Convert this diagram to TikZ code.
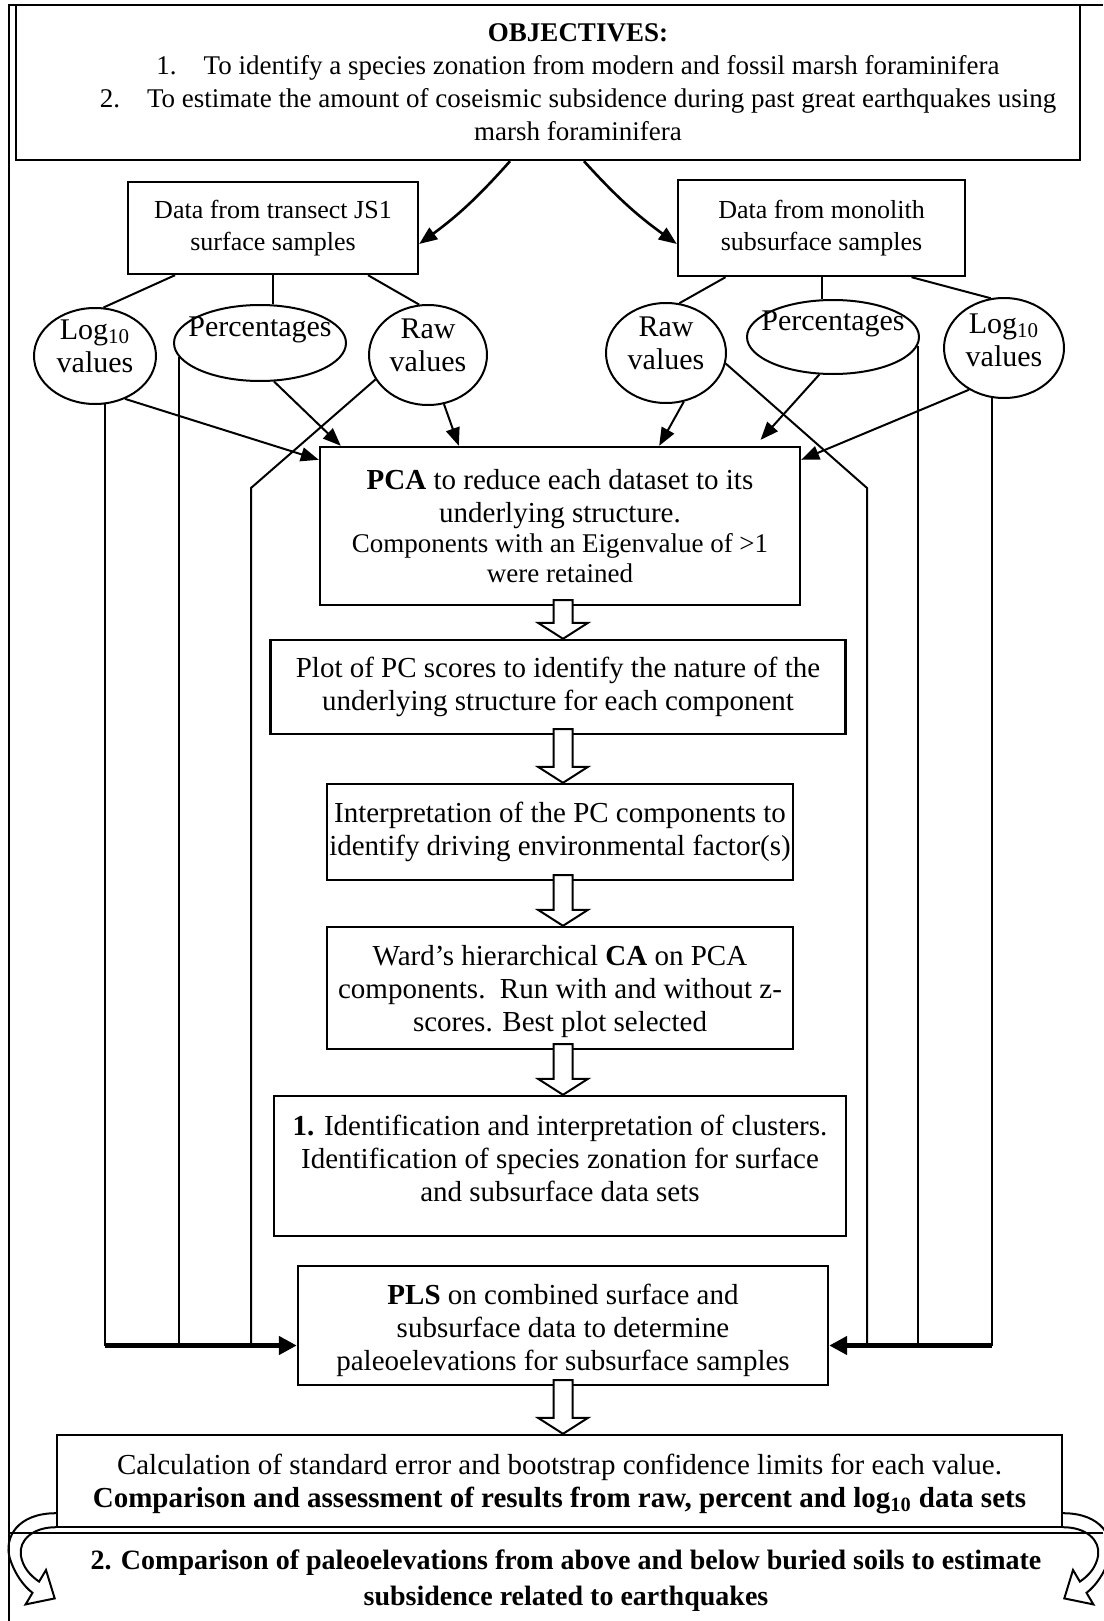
\documentclass[tikz,border=0pt]{standalone}
\usepackage{fontspec}
\setmainfont{Liberation Serif}
\usetikzlibrary{arrows.meta,calc,shapes.geometric}

\tikzset{
  box/.style={draw,line width=1.2pt,fill=white,inner sep=0pt,align=center,font=\fontsize{14.5}{16.5}\selectfont},
  boxtext/.style={align=center,font=\fontsize{14.5}{16.5}\selectfont},
  vals/.style={draw,ellipse,line width=1pt,inner sep=0pt},
  valtext/.style={align=center,font=\fontsize{15}{16.5}\selectfont},
  link/.style={line width=1pt},
  feed/.style={line width=1pt,-{Triangle[length=9pt,width=7pt]}},
  bus/.style={line width=2.5pt,-{Triangle[length=9pt,width=9pt]}},
  blockarrow/.style={draw,line width=1pt,fill=white,line join=miter},
  curl/.pic={
    \draw[line width=1pt] (0,-15) .. controls (-38,-15) and (-52,9) .. (-46,30)
      .. controls (-41,46) and (-32,58) .. (-23.3,64.6) -- (-30.2,76.2) -- (-1.1,70.2)
      -- (-9.8,41.8) -- (-16.7,53.4) .. controls (-26,47) and (-33,39) .. (-35,27)
      .. controls (-37,12) and (-23,-1) .. (0,-1);
  },
}

% hollow block arrow down the middle column
\newcommand{\downblock}[2]{%
  \draw[blockarrow] ($(#1.south -| spine)+(-9.5,-6)$) -- ++(19,0)
    -- ($(#2.north -| spine)+(9.5,-16)$) -- ++(15.5,0) -- (#2.north -| spine)
    -- ($(#2.north -| spine)+(-25,-16)$) -- ++(15.5,0) -- cycle;}

\begin{document}
\begin{tikzpicture}[x=0.5pt,y=-0.5pt]
\useasboundingbox (0,0) rectangle (1103,1621);
\coordinate (spine) at (563,0);
% frame
\draw[line width=1.2pt] (9,1621) -- (9,5) -- (1103,5);

% objectives
\node[box,minimum width=532pt,minimum height=77.5pt] (obj) at (548,82.5) {};
\node[align=center,font=\fontsize{13.5}{16.5}\selectfont] (objtext) at (578,82) {\textbf{OBJECTIVES:}\\
  1.\quad To identify a species zonation from modern and fossil marsh foraminifera\\
  2.\quad To estimate the amount of coseismic subsidence during past great earthquakes using\\
  marsh foraminifera};

% data sets
\node[box,font=\fontsize{13}{16}\selectfont,minimum width=145pt,minimum height=46pt] (dataL) at (273,228) {Data from transect JS1\\surface samples};
\node[box,font=\fontsize{13}{16}\selectfont,minimum width=143.5pt,minimum height=48pt] (dataR) at (821.5,228) {Data from monolith\\subsurface samples};

\node[vals,minimum width=61pt,minimum height=48pt] (logL) at (95,356) {};
\node[vals,minimum width=86pt,minimum height=38pt] (percL) at (260,343) {};
\node[vals,minimum width=59pt,minimum height=50pt] (rawL) at (428,355) {};
\node[vals,minimum width=60pt,minimum height=50pt] (rawR) at (666,353) {};
\node[vals,minimum width=86pt,minimum height=37pt] (percR) at (833,337) {};
\node[vals,minimum width=60pt,minimum height=50pt] (logR) at (1004,348) {};
\node[valtext] at ([yshift=5pt]logL.center) {Log\textsubscript{10}\\values};
\node[valtext] at ([yshift=6.5pt]percL.center) {Percentages};
\node[valtext] at ([yshift=5pt]rawL.center) {Raw\\values};
\node[valtext] at ([yshift=5pt]rawR.center) {Raw\\values};
\node[valtext] at ([yshift=6.5pt]percR.center) {Percentages};
\node[valtext] at ([yshift=4pt]logR.center) {Log\textsubscript{10}\\values};

% main column
\node[box,minimum width=240pt,minimum height=79pt] (pca) at (560,526) {\textbf{PCA} to reduce each dataset to its\\underlying structure.\\[-1.5pt]
  {\fontsize{13.5}{15.5}\selectfont Components with an Eigenvalue of >1}\\[-1.5pt]{\fontsize{13.5}{15.5}\selectfont were retained}};
\node[box,minimum width=287.5pt,minimum height=47pt] (plot) at (558,687) {Plot of PC scores to identify the nature of the\\underlying structure for each component};
\node[box,minimum width=233pt,minimum height=48pt] (interp) at (560,832) {Interpretation of the PC components to\\identify driving environmental factor(s)};
\node[box,minimum width=233pt,minimum height=61pt] (ward) at (560,988) {};
\node[boxtext] at ([yshift=-2pt]ward.center) {Ward’s hierarchical \textbf{CA} on PCA\\components.\ \ Run with and without z-\\scores. Best plot selected};
\node[box,minimum width=286pt,minimum height=70pt] (ident) at (560,1166) {};
\node[boxtext] at ([yshift=4pt]ident.center) {\textbf{1.} Identification and interpretation of clusters.\\Identification of species zonation for surface\\and subsurface data sets};
\node[box,minimum width=265pt,minimum height=59.5pt] (pls) at (563,1325.5) {};
\node[boxtext] at ([yshift=-2.5pt]pls.center) {\textbf{PLS} on combined surface and\\subsurface data to determine\\paleoelevations for subsurface samples};
\node[box,minimum width=502.5pt,minimum height=46pt] (calc) at (559.5,1481) {};
\node[boxtext] at ([yshift=-1.5pt]calc.center) {Calculation of standard error and bootstrap confidence limits for each value.\\
  \textbf{Comparison and assessment of results from raw, percent and log\textsubscript{10} data sets}};

\draw[line width=1pt] (9,1533) -- (1103,1533);
\node[align=center,font=\bfseries\fontsize{14}{18}\selectfont] (goal2) at (566,1581) {2. Comparison of paleoelevations from above and below buried soils to estimate\\subsidence related to earthquakes};

% objectives to data sets
\draw[feed,line width=1.3pt] ([xshift=-19pt]obj.south) to[bend left=6] ([yshift=-8pt]dataL.east);
\draw[feed,line width=1.3pt] ([xshift=18pt]obj.south) to[bend right=6] ([yshift=-8pt]dataR.west);

\draw[link] ([xshift=-49pt]dataL.south) -- (logL.80);
\draw[link] (dataL.south) -- (dataL.south |- percL.north);
\draw[link] ([xshift=47.5pt]dataL.south) -- (rawL.100);
\draw[link] ([xshift=-48pt]dataR.south) -- (rawR.75);
\draw[link] (dataR.south) -- (dataR.south |- percR.north);
\draw[link] ([xshift=45pt]dataR.south) -- (logR.105);

% into PCA
\draw[feed] (logL.-55) -- ([yshift=-7pt]pca.north west);
\draw[feed] (percL.-70) -- ([xshift=11pt]pca.north west);
\draw[feed] (rawL.-72) -- ([xshift=70pt]pca.north west);
\draw[feed] (rawR.-70) -- ([xshift=-71pt]pca.north east);
\draw[feed,shorten >=4pt] (percR.-110) -- ([xshift=-23pt]pca.north east);
\draw[feed] (logR.-130) -- ([yshift=-7pt]pca.north east);

% side lines to PLS
\coordinate (busL) at ([yshift=-10pt]pls.west);
\coordinate (busR) at ([yshift=-10pt]pls.east);
\coordinate (kinkL) at (251,488);
\coordinate (kinkR) at (867,488);
\draw[link] (logL.-78) -- (logL.-78 |- busL);
\draw[link] (percL.-170) -- (percL.-170 |- busL);
\draw[link] (rawL.-155) -- (kinkL) -- (kinkL |- busL);
\draw[bus] (logL.-78 |- busL) -- (busL);
\draw[link] (rawR.-10) -- (kinkR) -- (kinkR |- busR);
\draw[link] (percR.-6) -- (percR.-6 |- busR);
\draw[link] (logR.-104) -- (logR.-104 |- busR);
\draw[bus] (logR.-104 |- busR) -- (busR);

% hollow arrows
\downblock{pca}{plot}
\downblock{plot}{interp}
\downblock{interp}{ward}
\downblock{ward}{ident}
\downblock{pls}{calc}

\pic at (calc.south west) {curl};
\pic[xscale=-1] at (calc.south east) {curl};
\end{tikzpicture}
\end{document}
